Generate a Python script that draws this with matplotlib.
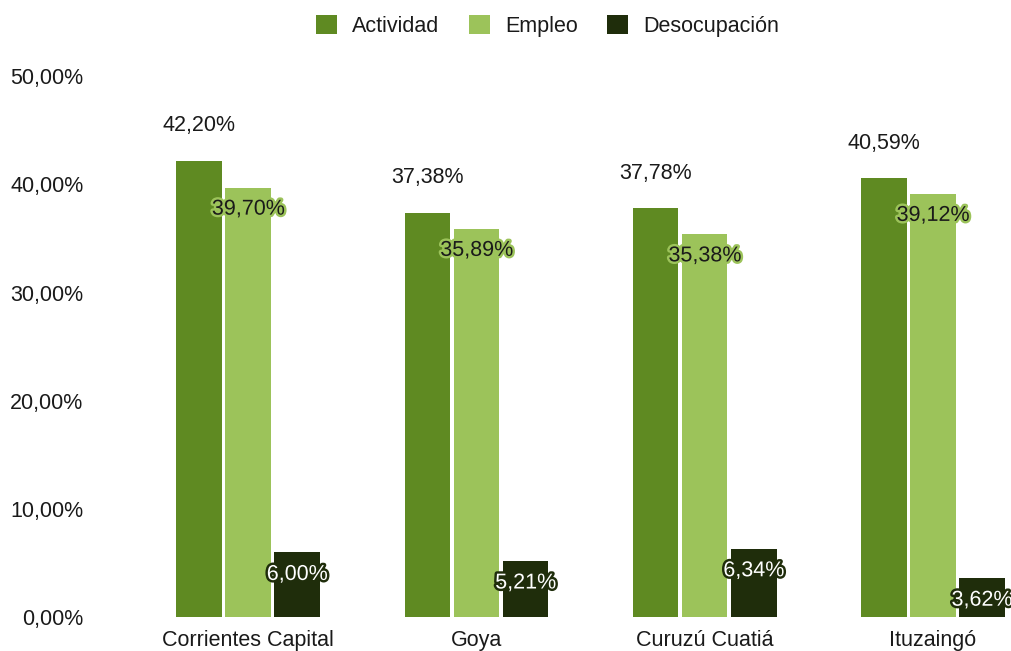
import matplotlib
matplotlib.use("Agg")
import matplotlib.pyplot as plt
import matplotlib.patheffects as pe
from matplotlib.ticker import FuncFormatter
import numpy as np

plt.rcParams['font.family'] = ['Liberation Sans', 'DejaVu Sans']

localidades = ['Corrientes Capital', 'Goya', 'Curuzú Cuatiá', 'Ituzaingó']
actividad = [42.20, 37.38, 37.78, 40.59]
empleo = [39.70, 35.89, 35.38, 39.12]
desocupacion = [6.00, 5.21, 6.34, 3.62]

COLOR_ACT = '#5f8a22'
COLOR_EMP = '#9cc35a'
COLOR_DES = '#1f2d0b'
COLOR_TXT = '#1a1a1a'
FS = 15.5


def fmt(v):
    return f"{v:.2f}".replace('.', ',') + '%'


fig = plt.figure(figsize=(10.12, 6.51), dpi=100)
ax = fig.add_axes([0.094, 0.052, 0.904, 0.831])

x = np.arange(len(localidades))
w = 0.2
off = 0.215

b1 = ax.bar(x - off, actividad, w, color=COLOR_ACT, label='Actividad')
b2 = ax.bar(x, empleo, w, color=COLOR_EMP, label='Empleo')
b3 = ax.bar(x + off, desocupacion, w, color=COLOR_DES, label='Desocupación')

# etiquetas: actividad arriba de la barra, el resto adentro con halo
for xi, v in zip(x, actividad):
    ax.annotate(fmt(v), (xi - off, v), xytext=(0, 25), textcoords='offset points',
                ha='center', va='center', fontsize=FS, color=COLOR_TXT)
for xi, v in zip(x, empleo):
    ax.annotate(fmt(v), (xi, v), xytext=(0, -15.5), textcoords='offset points',
                ha='center', va='center', fontsize=FS, color=COLOR_TXT,
                path_effects=[pe.withStroke(linewidth=3.5, foreground=COLOR_EMP)])
for xi, v in zip(x, desocupacion):
    ax.annotate(fmt(v), (xi + off, v), xytext=(0, -16), textcoords='offset points',
                ha='center', va='center', fontsize=FS, color='white',
                path_effects=[pe.withStroke(linewidth=3.5, foreground=COLOR_DES)])

ax.set_ylim(0, 50)
ax.set_yticks([0, 10, 20, 30, 40, 50])
ax.yaxis.set_major_formatter(FuncFormatter(lambda v, p: fmt(v)))
ax.set_xlim(-0.671, 3.338)
ax.set_xticks(x)
ax.set_xticklabels(localidades)
ax.tick_params(axis='both', length=0, labelsize=FS, colors=COLOR_TXT)
ax.tick_params(axis='y', pad=8.5)
ax.tick_params(axis='x', pad=9)
for s in ax.spines.values():
    s.set_visible(False)

fig.legend(handles=[b1, b2, b3], loc='center', bbox_to_anchor=(0.541, 0.96),
           ncol=3, frameon=False, fontsize=FS, handlelength=1.0, handleheight=1.0,
           handletextpad=0.7, columnspacing=1.35, labelcolor=COLOR_TXT)

fig.savefig('out.png', dpi=100, facecolor='white')
